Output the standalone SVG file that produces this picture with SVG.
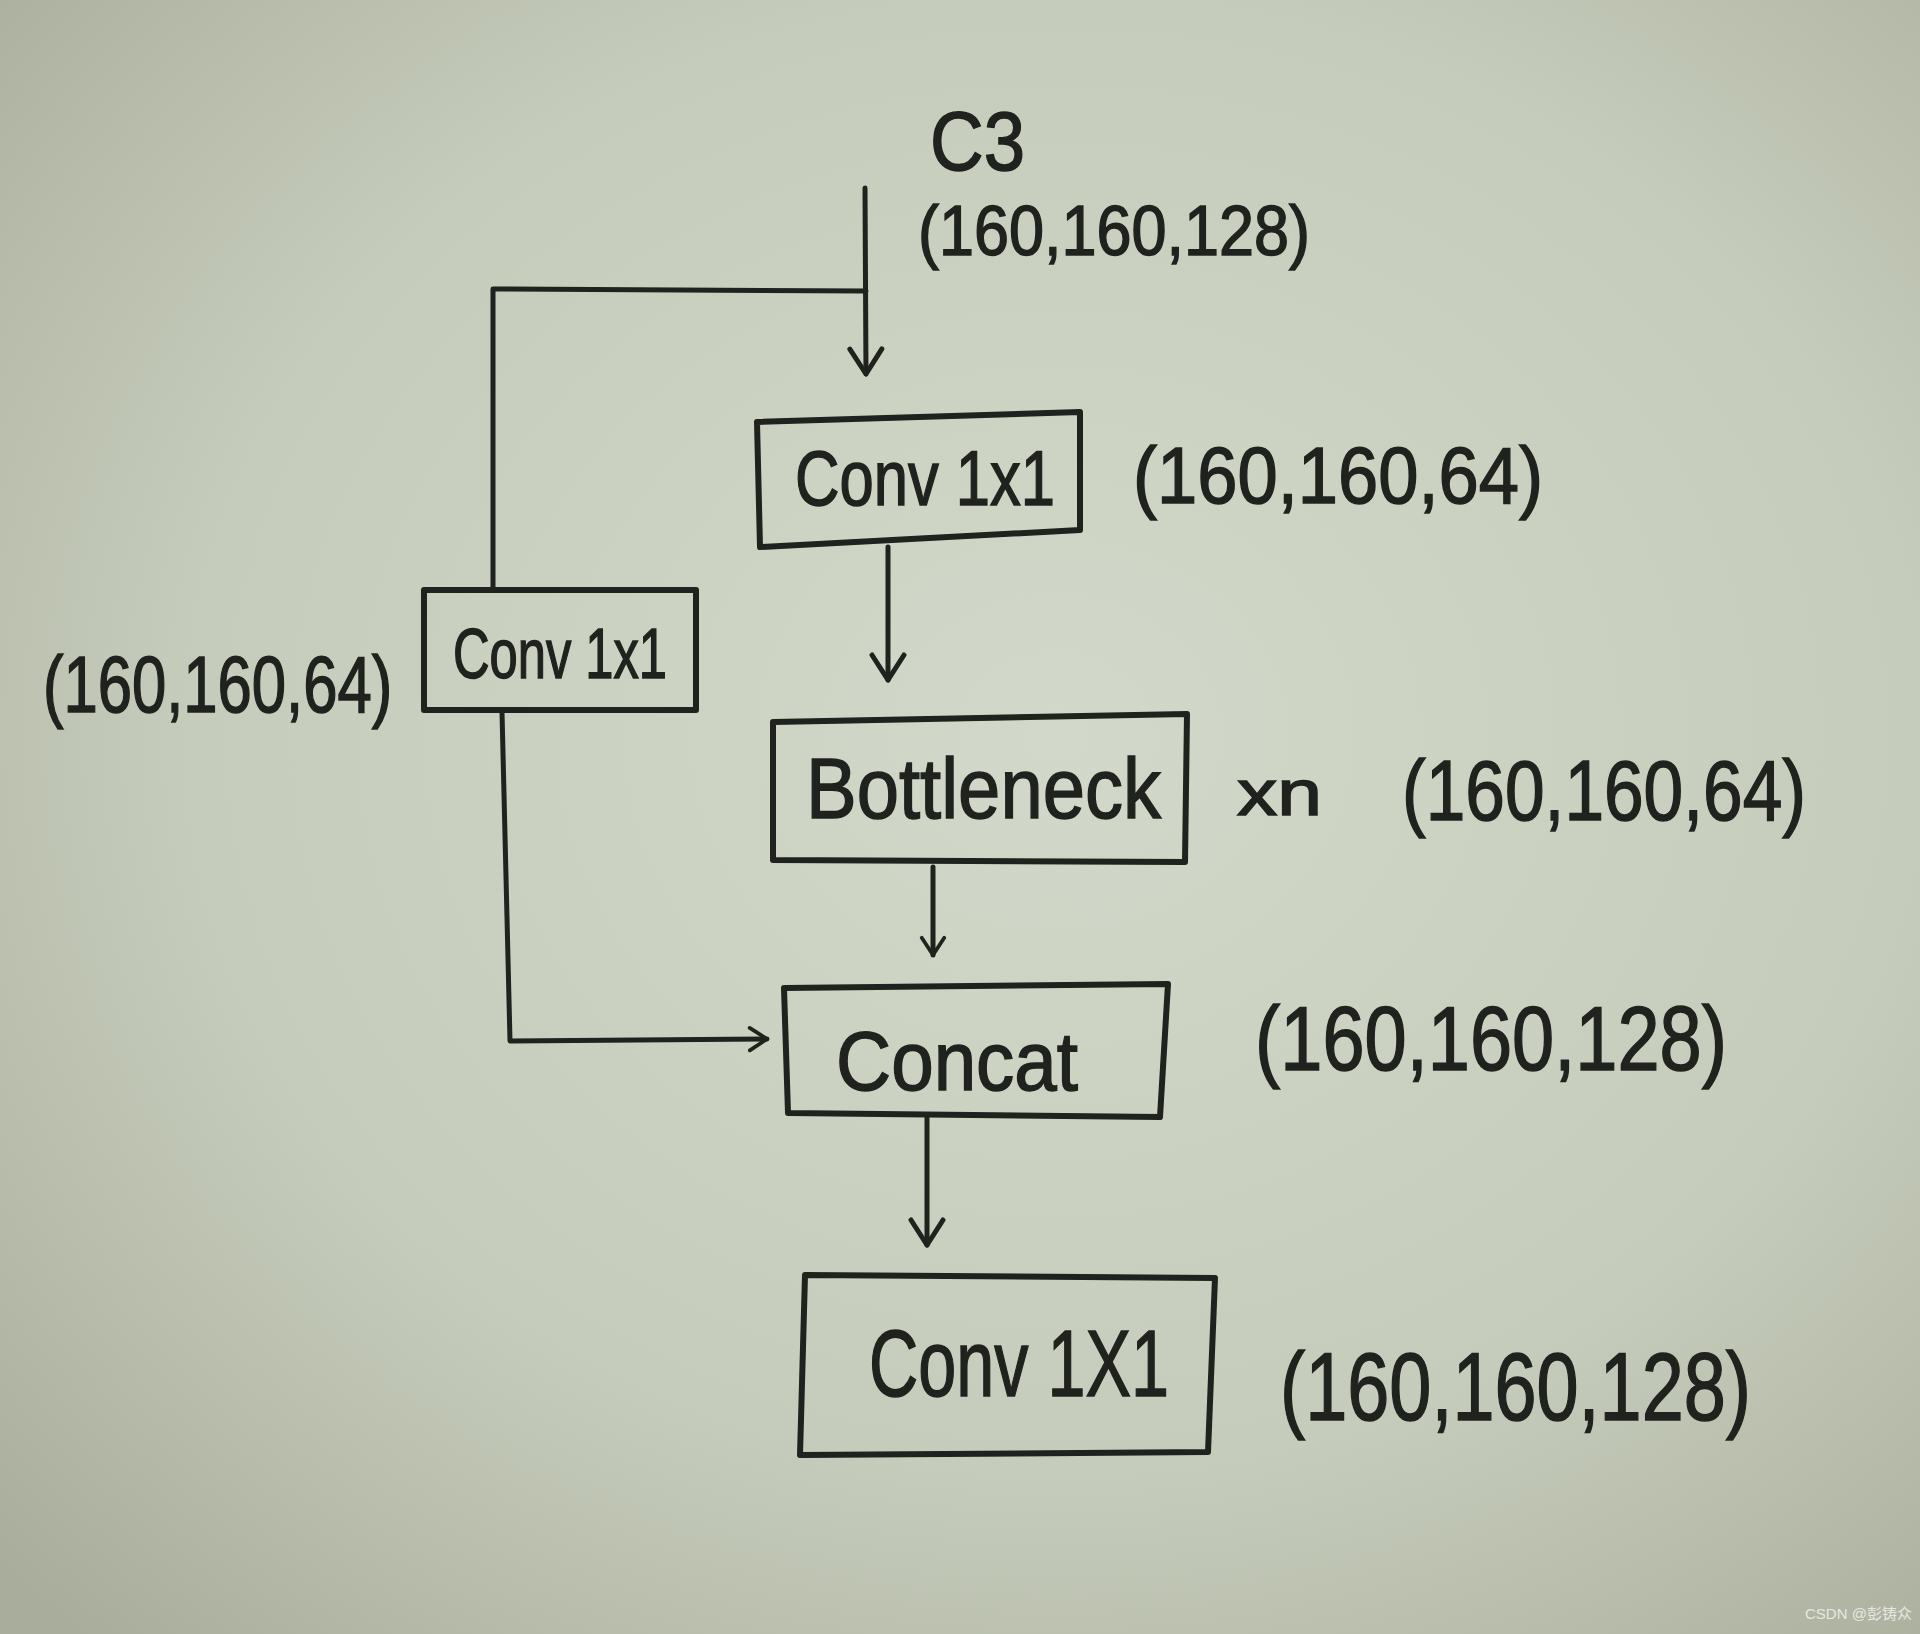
<svg xmlns="http://www.w3.org/2000/svg" width="1920" height="1634" viewBox="0 0 1920 1634">
<defs>
<radialGradient id="bg" cx="0.55" cy="0.45" r="0.75">
<stop offset="0" stop-color="#d3d9ca"/>
<stop offset="0.6" stop-color="#c6ccbb"/>
<stop offset="1" stop-color="#a9ad9c"/>
</radialGradient>
<marker id="arr" viewBox="0 0 40 40" refX="37" refY="20" markerWidth="40" markerHeight="40" markerUnits="userSpaceOnUse" orient="auto">
<polyline points="12,4 37,20 12,36" fill="none" stroke="#1f221d" stroke-width="5" stroke-linecap="round" stroke-linejoin="round"/>
</marker>
<marker id="arrS" viewBox="0 0 40 40" refX="37" refY="20" markerWidth="30" markerHeight="30" markerUnits="userSpaceOnUse" orient="auto">
<polyline points="14,5 37,20 14,35" fill="none" stroke="#1f221d" stroke-width="5" stroke-linecap="round" stroke-linejoin="round"/>
</marker>
</defs>
<style>
.box{fill:none;stroke:#1f221d;stroke-width:6;stroke-linejoin:round}
.ln{fill:none;stroke:#1f221d;stroke-width:5;stroke-linecap:round;stroke-linejoin:round}
.t{font-family:"Liberation Sans","DejaVu Sans",sans-serif;fill:#1f221d;stroke:#1f221d;stroke-width:1.5}
.wm{font-family:"Liberation Sans","Noto Sans CJK SC",sans-serif;fill:#e8e8e0;font-size:15px}
</style>
<rect x="0" y="0" width="1920" height="1634" fill="url(#bg)"/>

<g id="connectors">
<path class="ln" d="M865,188 L866,374" marker-end="url(#arr)"/>
<path class="ln" d="M866,291 L493,289 L493,588"/>
<path class="ln" d="M888,547 L888,680" marker-end="url(#arr)"/>
<path class="ln" d="M933,867 L933,955" marker-end="url(#arrS)"/>
<path class="ln" d="M927,1117 L927,1245" marker-end="url(#arr)"/>
<path class="ln" d="M502,712 L510,1041 L767,1039" marker-end="url(#arrS)"/>
</g>

<g id="title">
<text class="t" x="930" y="170" font-size="84" textLength="95" lengthAdjust="spacingAndGlyphs">C3</text>
<text class="t" x="918" y="255" font-size="70" textLength="392" lengthAdjust="spacingAndGlyphs">(160,160,128)</text>
</g>

<g id="conv_a">
<path class="box" d="M757,422 L1080,412 L1080,530 L760,547 Z"/>
<text class="t" x="795" y="505" font-size="78" textLength="260" lengthAdjust="spacingAndGlyphs">Conv 1x1</text>
<text class="t" x="1133" y="503" font-size="80" textLength="410" lengthAdjust="spacingAndGlyphs">(160,160,64)</text>
</g>

<g id="conv_b">
<rect class="box" x="424" y="590" width="272" height="120"/>
<text class="t" x="453" y="678" font-size="70" textLength="214" lengthAdjust="spacingAndGlyphs">Conv 1x1</text>
<text class="t" transform="translate(43,712) scale(0.77,1)" x="0" y="0" font-size="80">(160,160,64)</text>
</g>

<g id="bottleneck">
<path class="box" d="M773,722 L1187,714 L1185,862 L773,860 Z"/>
<text class="t" x="806" y="818" font-size="86" textLength="355" lengthAdjust="spacingAndGlyphs">Bottleneck</text>
<text class="t" x="1237" y="815" font-size="64" textLength="85" lengthAdjust="spacingAndGlyphs">xn</text>
<text class="t" x="1402" y="820" font-size="86" textLength="404" lengthAdjust="spacingAndGlyphs">(160,160,64)</text>
</g>

<g id="concat">
<path class="box" d="M784,988 L1168,984 L1160,1117 L788,1113 Z"/>
<text class="t" x="836" y="1090" font-size="84" textLength="242" lengthAdjust="spacingAndGlyphs">Concat</text>
<text class="t" x="1255" y="1070" font-size="90" textLength="472" lengthAdjust="spacingAndGlyphs">(160,160,128)</text>
</g>

<g id="conv_c">
<path class="box" d="M805,1275 L1215,1278 L1208,1452 L800,1455 Z"/>
<text class="t" x="869" y="1396" font-size="94" textLength="300" lengthAdjust="spacingAndGlyphs">Conv 1X1</text>
<text class="t" x="1280" y="1420" font-size="96" textLength="471" lengthAdjust="spacingAndGlyphs">(160,160,128)</text>
</g>

<text class="wm" x="1805" y="1619">CSDN @彭铸众</text>
</svg>
